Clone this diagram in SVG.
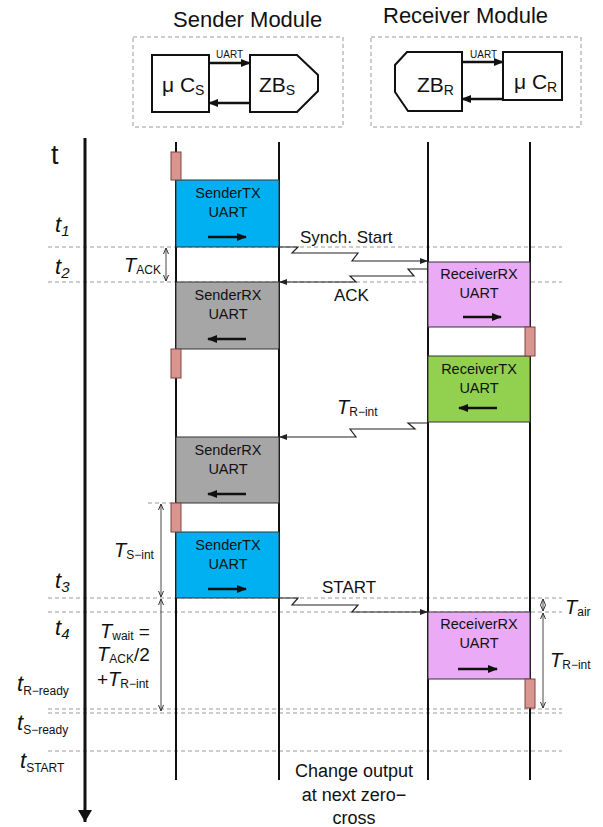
<svg xmlns="http://www.w3.org/2000/svg" width="603" height="827" viewBox="0 0 603 827">
<style>
text{font-family:"Liberation Sans",Arial,sans-serif;fill:#111}
.title{font-size:22px}
.box{stroke:#333;stroke-width:1}
.lbl{font-size:14.5px;text-anchor:middle}
.life{stroke:#111;stroke-width:2}
.dash{stroke:#999;stroke-width:1;stroke-dasharray:4 3;fill:none}
.conn{stroke:#222;stroke-width:1.2;fill:none}
.inarrow{stroke:#111;stroke-width:2.5}
.mod{fill:#fff;stroke:#111;stroke-width:2}
.dim{stroke:#333;stroke-width:0.9}
.it{font-style:italic}
.sm{font-size:12px;font-style:normal}
.mark{fill:#D99590;stroke:#7a4440;stroke-width:1}
</style>
<defs>
<marker id="ah" markerWidth="8" markerHeight="6" refX="8" refY="3" orient="auto" markerUnits="userSpaceOnUse"><path d="M0,0 L8,3 L0,6 z" fill="#222"/></marker>
<marker id="ahb" markerWidth="10" markerHeight="8" refX="9" refY="4" orient="auto" markerUnits="userSpaceOnUse"><path d="M0,0 L10,4 L0,8 z" fill="#111"/></marker>
<marker id="dh" markerWidth="6" markerHeight="6" refX="6" refY="3" orient="auto-start-reverse" markerUnits="userSpaceOnUse"><path d="M0,0.5 L6,3 L0,5.5" fill="none" stroke="#333" stroke-width="1"/></marker>
<marker id="axh" markerWidth="12" markerHeight="14" refX="12" refY="7" orient="auto" markerUnits="userSpaceOnUse"><path d="M0,0 L12,7 L0,14 z" fill="#111"/></marker>
</defs>

<!-- Modules -->
<g id="sender-module">
<text class="title" x="173" y="27">Sender Module</text>
<rect x="133" y="37" width="210" height="90" class="dash"/>
<rect x="152" y="55" width="57" height="57" class="mod"/>
<text x="162" y="92" font-size="21">μ C<tspan font-size="14" dy="3">S</tspan></text>
<polygon points="250,55 297,55 318,75 318,91 297,112 250,112" class="mod"/>
<text x="259" y="92" font-size="21">ZB<tspan font-size="14" dy="3">S</tspan></text>
<line x1="209" y1="63" x2="250" y2="63" class="inarrow" stroke-width="2" marker-end="url(#ahb)"/>
<line x1="250" y1="103" x2="209" y2="103" class="inarrow" stroke-width="2" marker-end="url(#ahb)"/>
<text x="216" y="58" font-size="10">UART</text>
</g>
<g id="receiver-module">
<text class="title" x="383" y="23">Receiver Module</text>
<rect x="371" y="37" width="210" height="90" class="dash"/>
<polygon points="407,52 462,52 462,111 408,111 395,92 395,65" class="mod"/>
<text x="417" y="92" font-size="21">ZB<tspan font-size="14" dy="3">R</tspan></text>
<rect x="503" y="52" width="59" height="48" class="mod"/>
<text x="514" y="89" font-size="21">μ C<tspan font-size="14" dy="3">R</tspan></text>
<line x1="462" y1="62" x2="503" y2="62" class="inarrow" stroke-width="2" marker-end="url(#ahb)"/>
<line x1="503" y1="99" x2="462" y2="99" class="inarrow" stroke-width="2" marker-end="url(#ahb)"/>
<text x="470" y="58" font-size="10">UART</text>
</g>

<!-- Dashed time lines -->
<g id="timelines">
<line x1="48" y1="247" x2="562" y2="247" class="dash"/>
<line x1="48" y1="282" x2="562" y2="282" class="dash"/>
<line x1="148" y1="503" x2="176" y2="503" class="dash"/>
<line x1="48" y1="598" x2="562" y2="598" class="dash"/>
<line x1="48" y1="612" x2="562" y2="612" class="dash"/>
<line x1="48" y1="709" x2="562" y2="709" class="dash"/>
<line x1="48" y1="713" x2="562" y2="713" class="dash"/>
<line x1="48" y1="751" x2="562" y2="751" class="dash"/>
</g>

<!-- Axis -->
<g id="axis">
<line x1="85" y1="138" x2="85" y2="822" stroke="#111" stroke-width="3" marker-end="url(#axh)"/>
<text x="51" y="164" font-size="27">t</text>
<text class="it" x="55" y="232" font-size="22">t<tspan font-size="15" dy="4">1</tspan></text>
<text class="it" x="55" y="274" font-size="22">t<tspan font-size="15" dy="4">2</tspan></text>
<text class="it" x="55" y="588" font-size="22">t<tspan font-size="15" dy="4">3</tspan></text>
<text class="it" x="55" y="635" font-size="22">t<tspan font-size="15" dy="4">4</tspan></text>
<text class="it" x="17" y="691" font-size="22">t<tspan class="sm" font-size="17" dy="4">R−ready</tspan></text>
<text class="it" x="17" y="730" font-size="22">t<tspan class="sm" font-size="17" dy="4">S−ready</tspan></text>
<text class="it" x="20" y="768" font-size="22">t<tspan class="sm" font-size="17" dy="4">START</tspan></text>
</g>

<!-- Lifelines -->
<g id="lifelines">
<line x1="176" y1="142" x2="176" y2="780" class="life"/>
<line x1="279" y1="142" x2="279" y2="780" class="life"/>
<line x1="428" y1="142" x2="428" y2="780" class="life"/>
<line x1="530" y1="142" x2="530" y2="780" class="life"/>
</g>

<!-- Activity boxes -->
<g id="sender-tx-1">
<rect x="176" y="180" width="103" height="67" fill="#00B0F0" class="box"/>
<text class="lbl" x="228" y="198">SenderTX</text>
<text class="lbl" x="228" y="217">UART</text>
<line x1="208" y1="237" x2="246" y2="237" class="inarrow" marker-end="url(#ahb)"/>
</g>
<g id="sender-rx-1">
<rect x="176" y="282" width="103" height="67" fill="#A6A6A6" class="box"/>
<text class="lbl" x="228" y="300">SenderRX</text>
<text class="lbl" x="228" y="319">UART</text>
<line x1="246" y1="339" x2="208" y2="339" class="inarrow" marker-end="url(#ahb)"/>
</g>
<g id="sender-rx-2">
<rect x="176" y="437" width="103" height="66" fill="#A6A6A6" class="box"/>
<text class="lbl" x="228" y="455">SenderRX</text>
<text class="lbl" x="228" y="474">UART</text>
<line x1="246" y1="494" x2="208" y2="494" class="inarrow" marker-end="url(#ahb)"/>
</g>
<g id="sender-tx-2">
<rect x="176" y="532" width="103" height="66" fill="#00B0F0" class="box"/>
<text class="lbl" x="228" y="550">SenderTX</text>
<text class="lbl" x="228" y="569">UART</text>
<line x1="208" y1="589" x2="246" y2="589" class="inarrow" marker-end="url(#ahb)"/>
</g>
<g id="receiver-rx-1">
<rect x="428" y="262" width="102" height="65" fill="#EBAAF5" class="box"/>
<text class="lbl" x="479" y="279">ReceiverRX</text>
<text class="lbl" x="479" y="298">UART</text>
<line x1="463" y1="317" x2="501" y2="317" class="inarrow" marker-end="url(#ahb)"/>
</g>
<g id="receiver-tx">
<rect x="428" y="356" width="102" height="66" fill="#92D050" class="box"/>
<text class="lbl" x="479" y="374">ReceiverTX</text>
<text class="lbl" x="479" y="393">UART</text>
<line x1="497" y1="408" x2="459" y2="408" class="inarrow" marker-end="url(#ahb)"/>
</g>
<g id="receiver-rx-2">
<rect x="428" y="612" width="102" height="67" fill="#EBAAF5" class="box"/>
<text class="lbl" x="479" y="629">ReceiverRX</text>
<text class="lbl" x="479" y="648">UART</text>
<line x1="458" y1="669" x2="497" y2="669" class="inarrow" marker-end="url(#ahb)"/>
</g>

<!-- Interrupt markers -->
<g id="markers">
<rect x="171" y="152" width="10" height="28" class="mark"/>
<rect x="171" y="349" width="10" height="29" class="mark"/>
<rect x="171" y="503" width="10" height="29" class="mark"/>
<rect x="525" y="327" width="10" height="29" class="mark"/>
<rect x="525" y="679" width="10" height="29" class="mark"/>
</g>

<!-- Connectors -->
<g id="connectors">
<polyline points="279,247 298,247 292,253 358,253 352,261 428,261" class="conn" marker-end="url(#ah)"/>
<polyline points="428,269 408,269 414,276 350,276 356,282 279,282" class="conn" marker-end="url(#ah)"/>
<polyline points="428,423 408,423 415,429 350,429 356,437 279,437" class="conn" marker-end="url(#ah)"/>
<polyline points="279,598 298,598 292,605 358,605 352,612 428,612" class="conn" marker-end="url(#ah)"/>
<text x="300" y="243" font-size="17">Synch. Start</text>
<text x="334" y="301" font-size="17">ACK</text>
<text x="322" y="593" font-size="17">START</text>
<text class="it" x="337" y="414" font-size="20">T<tspan class="sm" font-size="14" dy="2">R−int</tspan></text>
</g>

<!-- Dimension arrows -->
<g id="dimensions">
<line x1="166" y1="248" x2="166" y2="281" class="dim" marker-start="url(#dh)" marker-end="url(#dh)"/>
<text class="it" x="124" y="272" font-size="20">T<tspan class="sm" font-size="14" dy="2">ACK</tspan></text>
<line x1="161" y1="504" x2="161" y2="597" class="dim" marker-start="url(#dh)" marker-end="url(#dh)"/>
<text class="it" x="114" y="557" font-size="20">T<tspan class="sm" font-size="14" dy="2">S−int</tspan></text>
<line x1="161" y1="599" x2="161" y2="711" class="dim" marker-start="url(#dh)" marker-end="url(#dh)"/>
<text class="it" x="100" y="638" font-size="20">T<tspan class="sm" font-size="14" dy="2">wait</tspan><tspan font-style="normal" font-size="19" dy="-2"> =</tspan></text>
<text class="it" x="97" y="661" font-size="20">T<tspan class="sm" font-size="14" dy="2">ACK</tspan><tspan font-style="normal" font-size="19" dy="-2">/2</tspan></text>
<text x="97" y="686" font-size="19">+<tspan font-style="italic" font-size="20">T</tspan><tspan class="sm" font-size="14" dy="2">R−int</tspan></text>
<line x1="543" y1="599" x2="543" y2="611" class="dim" marker-start="url(#dh)" marker-end="url(#dh)"/>
<text class="it" x="565" y="614" font-size="20">T<tspan class="sm" font-size="14" dy="2">air</tspan></text>
<line x1="543" y1="613" x2="543" y2="708" class="dim" marker-start="url(#dh)" marker-end="url(#dh)"/>
<text class="it" x="550" y="667" font-size="20">T<tspan class="sm" font-size="14" dy="2">R−int</tspan></text>
</g>

<g id="note">
<text x="354" y="777" font-size="18" text-anchor="middle">Change output</text>
<text x="354" y="801" font-size="18" text-anchor="middle">at next zero−</text>
<text x="354" y="824" font-size="18" text-anchor="middle">cross</text>
</g>
</svg>
